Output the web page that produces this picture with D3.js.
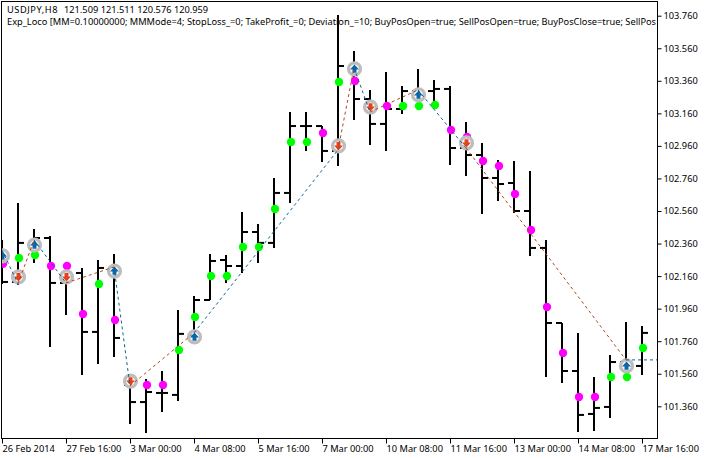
<!DOCTYPE html>
<html><head><meta charset="utf-8">
<script src="https://cdn.jsdelivr.net/npm/d3@7/dist/d3.min.js"></script>
<style>html,body{margin:0;padding:0;background:#fff}svg{display:block}text{font-family:"Noto Sans",sans-serif;font-size:9.25px;fill:#000}</style>
</head><body><svg id="c" width="709" height="458"></svg>
<script>
const headerSymbol = "USDJPY,H8";
const headerQuotes = "121.509 121.511 120.576 120.959";
const headerLine2 = "Exp_Loco [MM=0.10000000; MMMode=4; StopLoss_=0; TakeProfit_=0; Deviation_=10; BuyPosOpen=true; SellPosOpen=true; BuyPosClose=true; SellPos";
const priceTicks = [103.76,103.56,103.36,103.16,102.96,102.76,102.56,102.36,102.16,101.96,101.76,101.56,101.36];
const timeTickBars = [0,4,8,12,16,20,24,28,32,36,40];
const timeTickLabels = ["26 Feb 2014","27 Feb 16:00","3 Mar 00:00","4 Mar 08:00","5 Mar 16:00","7 Mar 00:00","10 Mar 08:00","11 Mar 16:00","13 Mar 00:00","14 Mar 08:00","17 Mar 16:00"];
const opens  = [102.259,102.124,102.364,102.394,102.118,102.179,101.817,102.210,101.491,101.386,101.442,101.430,101.786,102.013,102.259,102.222,102.431,102.364,102.671,103.082,103.082,102.929,103.451,103.248,103.095,103.187,103.297,103.297,103.310,102.947,102.904,102.763,102.732,102.560,102.333,101.872,101.577,101.313,101.356,101.632,101.608];
const highs  = [102.382,102.609,102.449,102.406,102.198,102.210,102.259,102.296,101.552,101.528,101.577,101.952,102.038,102.296,102.290,102.554,102.480,102.763,103.168,103.168,103.082,103.764,103.543,103.304,103.414,103.328,103.433,103.365,103.328,103.107,102.978,102.873,102.867,102.806,102.382,101.872,101.811,101.540,101.675,101.878,101.854];
const lows   = [102.112,102.106,102.241,101.725,101.921,101.552,101.620,101.663,101.252,101.196,101.325,101.393,101.755,102.013,102.118,102.179,102.241,102.333,102.609,102.929,102.861,102.837,103.119,102.966,102.929,103.156,103.242,103.199,102.843,102.775,102.542,102.622,102.548,102.284,101.540,101.503,101.202,101.209,101.288,101.571,101.552];
const closes = [102.124,102.364,102.394,102.118,102.179,101.817,102.210,101.780,101.386,101.448,101.442,101.805,102.013,102.253,102.222,102.431,102.364,102.671,103.082,103.082,102.929,103.451,103.248,103.095,103.187,103.297,103.297,103.310,102.947,102.904,102.763,102.726,102.560,102.333,101.872,101.577,101.307,101.350,101.632,101.608,101.811];
const signalBars = [0,1,2,3,4,5,6,7,9,10,11,12,13,14,15,16,17,18,19,20,21,22,24,25,26,27,28,29,30,31,32,33,34,35,36,37,38,39,40];
const signalPrices = [102.235,102.271,102.290,102.222,102.222,101.927,102.112,101.890,101.491,101.491,101.706,101.909,102.161,102.161,102.339,102.339,102.572,102.984,102.984,103.039,103.353,103.359,103.205,103.205,103.205,103.211,103.058,103.015,102.867,102.837,102.665,102.443,101.970,101.688,101.417,101.417,101.540,101.540,101.718];
const signalKinds = ["s","b","b","s","s","s","b","s","s","s","b","b","b","b","b","b","b","b","b","s","b","s","s","b","b","b","s","s","s","s","s","s","s","s","s","s","b","b","b"];
const tradeBars = [0,1,2,4,7,8,12,21,22,23,26,29,39];
const tradePrices = [102.284,102.155,102.351,102.155,102.191,101.515,101.786,102.960,103.433,103.199,103.273,102.978,101.608];
const tradeKinds = ["b","s","b","s","b","s","b","s","b","s","b","s","b"];
const pivotPrices = [102.320,102.112,102.382,102.118,102.216,101.485,101.811,102.935,103.439,103.168,103.304,102.947,101.645];

const PLOT = {l:2,t:2,r:657,b:438};
const svg = d3.select("#c");
const x = d3.scaleLinear().domain([0,1]).range([2,18]);
const y = d3.scaleLinear().domain([101.36,103.76]).range([406.3,15.7]);
const COLORS = {b:"#00ff00",s:"#ff00ff"}, ARROW={b:"#0d66a6",s:"#e2431c"}, LINE={b:"#0f6496",s:"#ad4a20"};

svg.append("defs").append("clipPath").attr("id","plot").append("rect")
  .attr("x",PLOT.l).attr("y",PLOT.t).attr("width",PLOT.r-PLOT.l).attr("height",PLOT.b-PLOT.t);

const hdr = svg.append("g");
hdr.append("text").attr("x",7).attr("y",12.5).style("letter-spacing","0.55px").text(headerSymbol);
hdr.append("text").attr("x",64).attr("y",12.5).text(headerQuotes);
hdr.append("text").attr("x",7).attr("y",24.5).text(headerLine2);

const g = svg.append("g").attr("clip-path","url(#plot)");
const bars = g.append("g").selectAll("g").data(opens.map((o,i)=>({i,o,h:highs[i],l:lows[i],c:closes[i]}))).join("g");
bars.append("line").attr("x1",d=>x(d.i)).attr("x2",d=>x(d.i)).attr("y1",d=>y(d.h)).attr("y2",d=>y(d.l)).attr("stroke","#000").attr("stroke-width",2);
bars.append("line").attr("x1",d=>x(d.i)-6).attr("x2",d=>x(d.i)).attr("y1",d=>y(d.o)).attr("y2",d=>y(d.o)).attr("stroke","#000").attr("stroke-width",2);
bars.append("line").attr("x1",d=>x(d.i)).attr("x2",d=>x(d.i)+6).attr("y1",d=>y(d.c)).attr("y2",d=>y(d.c)).attr("stroke","#000").attr("stroke-width",2);

g.append("g").selectAll("circle").data(signalBars.map((b,i)=>({b,p:signalPrices[i],k:signalKinds[i]}))).join("circle")
  .attr("cx",d=>x(d.b)+1).attr("cy",d=>y(d.p)).attr("r",4.2).attr("fill",d=>COLORS[d.k]);

const pivots = tradeBars.map((b,i)=>({b,p:pivotPrices[i],k:tradeKinds[i]}));
const lineGen = d3.line().x(d=>x(d.b)).y(d=>y(d.p));
const segs = d3.pairs(pivots).concat([[pivots[pivots.length-1],{b:40.94,p:pivotPrices[pivotPrices.length-1]}]]);

const trades = g.append("g").selectAll("g").data(tradeBars.map((b,i)=>({b,p:tradePrices[i],k:tradeKinds[i]}))).join("g")
  .attr("transform",d=>`translate(${x(d.b)+0.5},${y(d.p)})`);
trades.append("circle").attr("r",6).attr("fill","#fff").attr("stroke","#bdbdbd").attr("stroke-width",3.2);
trades.append("path").attr("d",d=>d.k==="b"
   ?"M0,-4.5L4.5,0.5L2,0.5L2,3.8L-2,3.8L-2,0.5L-4.5,0.5Z"
   :"M0,4.5L4.5,-0.5L2,-0.5L2,-3.8L-2,-3.8L-2,-0.5L-4.5,-0.5Z").attr("fill",d=>ARROW[d.k]);

g.append("g").selectAll("path").data(segs).join("path")
  .attr("d",d=>lineGen(d)).attr("fill","none").attr("stroke",d=>LINE[d[0].k]).attr("stroke-width",1).attr("stroke-dasharray","3,3");

svg.append("rect").attr("x",PLOT.l-0.5).attr("y",PLOT.t-0.5).attr("width",PLOT.r-PLOT.l+1).attr("height",PLOT.b-PLOT.t+1).attr("fill","none").attr("stroke","#000");

const yAxis = d3.axisRight(y).tickValues(priceTicks).tickSize(4).tickPadding(2).tickFormat(d3.format(".3f"));
const ya = svg.append("g").attr("transform",`translate(${PLOT.r+0.5},0)`).call(yAxis);
ya.select(".domain").remove();
ya.selectAll("text").style("font-size","9.25px").style("font-family",'"Noto Sans",sans-serif');

const xAxis = d3.axisBottom(x).tickValues(timeTickBars).tickSize(5).tickPadding(2).tickFormat((d,i)=>timeTickLabels[i]);
const xa = svg.append("g").attr("transform",`translate(0,${PLOT.b+0.5})`).call(xAxis);
xa.select(".domain").remove();
xa.selectAll("text").attr("text-anchor","start").style("font-size","9.25px").style("font-family",'"Noto Sans",sans-serif');
</script></body></html>
